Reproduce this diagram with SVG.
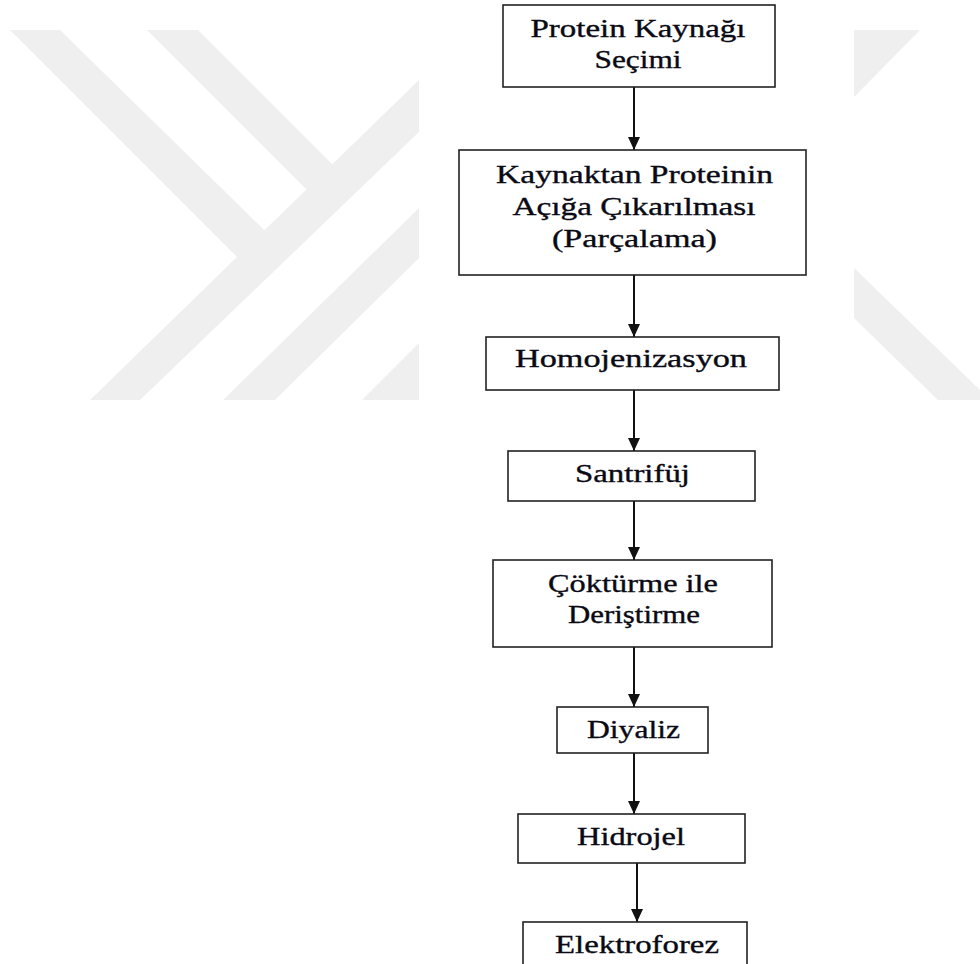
<svg xmlns="http://www.w3.org/2000/svg" width="980" height="964" viewBox="0 0 980 964">
  <style>
    .box { fill: #ffffff; stroke: #222222; stroke-width: 1.6; }
    .lbl { font-family: "Liberation Serif", "Times New Roman", serif; font-size: 25px; fill: #0a0a14; stroke: #0a0a14; stroke-width: 0.35; text-anchor: middle; }
    .edge { stroke: #111111; stroke-width: 2; fill: none; marker-end: url(#arrow); }
    .wm { fill: #efefef; stroke: none; }
  </style>
  <defs>
    <marker id="arrow" viewBox="0 0 13 12" refX="13" refY="6" markerWidth="13" markerHeight="12" markerUnits="userSpaceOnUse" orient="auto">
      <path d="M0,0 L13,6 L0,12 Z" fill="#111111"/>
    </marker>
  </defs>
  <rect x="0" y="0" width="980" height="964" fill="#ffffff"/>

  <g id="watermark">
    <polygon class="wm" points="10,30 60,30 264.4,230.3 306.5,189.5 147,30 198,30 332.3,164.3 419,80 419,132 140,400 90,400 237,257"/>
    <polygon class="wm" points="223,400 419,208 419,258 275,400"/>
    <polygon class="wm" points="362,400 419,343 419,400"/>
    <polygon class="wm" points="854,30 920,30 854,97"/>
    <polygon class="wm" points="854,268 980,390 980,400 938,400 854,318"/>
  </g>

  <g id="connectors">
    <line class="edge" x1="634" y1="87" x2="634" y2="150"/>
    <line class="edge" x1="634" y1="275" x2="634" y2="337"/>
    <line class="edge" x1="634" y1="390" x2="634" y2="451"/>
    <line class="edge" x1="634" y1="501" x2="634" y2="560"/>
    <line class="edge" x1="634" y1="647" x2="634" y2="707"/>
    <line class="edge" x1="634" y1="753" x2="634" y2="814"/>
    <line class="edge" x1="637" y1="863" x2="637" y2="922"/>
  </g>

  <g id="n1">
    <rect class="box" x="503" y="5" width="272" height="82"/>
    <text class="lbl" x="638" y="37" textLength="215" lengthAdjust="spacingAndGlyphs">Protein Kaynağı</text>
    <text class="lbl" x="638" y="68" textLength="87" lengthAdjust="spacingAndGlyphs">Seçimi</text>
  </g>
  <g id="n2">
    <rect class="box" x="459" y="150" width="347" height="125"/>
    <text class="lbl" x="634.5" y="183" textLength="277" lengthAdjust="spacingAndGlyphs">Kaynaktan Proteinin</text>
    <text class="lbl" x="634" y="215" textLength="243" lengthAdjust="spacingAndGlyphs">Açığa Çıkarılması</text>
    <text class="lbl" x="634.5" y="247" textLength="165" lengthAdjust="spacingAndGlyphs">(Parçalama)</text>
  </g>
  <g id="n3">
    <rect class="box" x="486" y="337" width="293" height="53"/>
    <text class="lbl" x="631" y="367" textLength="232" lengthAdjust="spacingAndGlyphs">Homojenizasyon</text>
  </g>
  <g id="n4">
    <rect class="box" x="508" y="451" width="247" height="50"/>
    <text class="lbl" x="632.5" y="482" textLength="115" lengthAdjust="spacingAndGlyphs">Santrifüj</text>
  </g>
  <g id="n5">
    <rect class="box" x="493" y="560" width="279" height="87"/>
    <text class="lbl" x="633" y="592" textLength="170" lengthAdjust="spacingAndGlyphs">Çöktürme ile</text>
    <text class="lbl" x="634" y="623" textLength="132" lengthAdjust="spacingAndGlyphs">Deriştirme</text>
  </g>
  <g id="n6">
    <rect class="box" x="557" y="707" width="151" height="46"/>
    <text class="lbl" x="633.5" y="738" textLength="93" lengthAdjust="spacingAndGlyphs">Diyaliz</text>
  </g>
  <g id="n7">
    <rect class="box" x="518" y="814" width="227" height="49"/>
    <text class="lbl" x="631" y="845" textLength="108" lengthAdjust="spacingAndGlyphs">Hidrojel</text>
  </g>
  <g id="n8">
    <rect class="box" x="523" y="922" width="224" height="60"/>
    <text class="lbl" x="637" y="953" textLength="164" lengthAdjust="spacingAndGlyphs">Elektroforez</text>
  </g>
</svg>
